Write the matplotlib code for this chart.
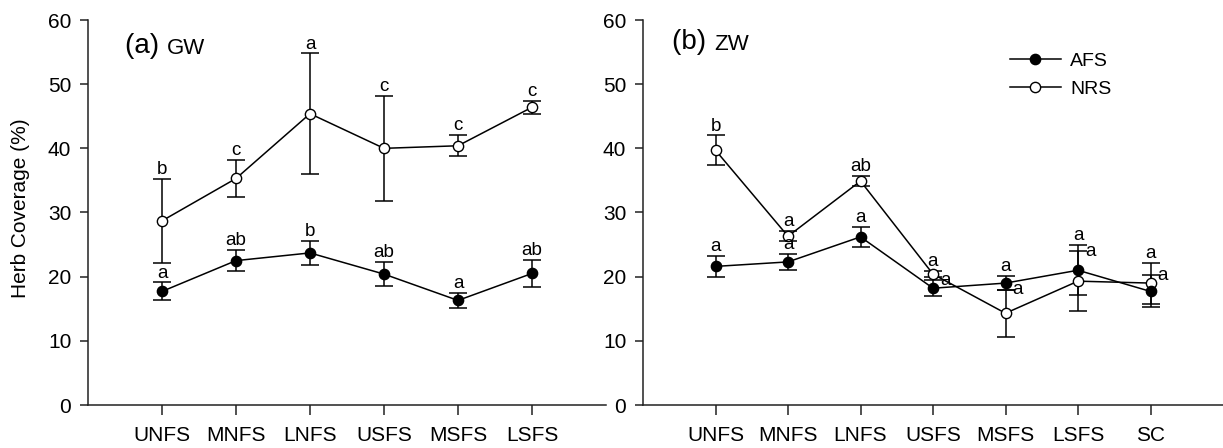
import matplotlib
matplotlib.use("Agg")
import matplotlib.pyplot as plt
from matplotlib.lines import Line2D

plt.rcParams['font.family'] = ['Liberation Sans', 'DejaVu Sans']

# ---------------- data ----------------
cats_gw = ['UNFS', 'MNFS', 'LNFS', 'USFS', 'MSFS', 'LSFS']
gw_afs = [17.7, 22.5, 23.7, 20.4, 16.3, 20.5]
gw_afs_err = [1.4, 1.65, 1.9, 1.9, 1.15, 2.05]
gw_nrs = [28.7, 35.3, 45.4, 40.0, 40.4, 46.4]
gw_nrs_err = [6.55, 2.85, 9.4, 8.15, 1.65, 1.05]
gw_afs_lab = ['a', 'ab', 'b', 'ab', 'a', 'ab']
gw_nrs_lab = ['b', 'c', 'a', 'c', 'c', 'c']
gw_afs_side = ['top'] * 6
gw_nrs_side = ['top'] * 6

cats_zw = ['UNFS', 'MNFS', 'LNFS', 'USFS', 'MSFS', 'LSFS', 'SC']
zw_afs = [21.6, 22.3, 26.2, 18.2, 19.0, 21.0, 17.7]
zw_afs_err = [1.65, 1.3, 1.6, 1.25, 1.1, 3.9, 2.5]
zw_nrs = [39.7, 26.3, 34.9, 20.4, 14.3, 19.3, 19.0]
zw_nrs_err = [2.3, 0.8, 0.75, 0.5, 3.7, 4.7, 3.2]
zw_afs_lab = ['a', 'a', 'a', 'a', 'a', 'a', 'a']
zw_nrs_lab = ['b', 'a', 'ab', 'a', 'a', 'a', 'a']
zw_afs_side = ['top', 'top', 'top', 'right', 'top', 'top', 'right']
zw_nrs_side = ['top', 'top', 'top', 'top', 'right', 'right', 'top']

yticks = [0, 10, 20, 30, 40, 50, 60]
series_names = ['AFS', 'NRS']

# ---------------- figure ----------------
W, H = 1223, 448
fig = plt.figure(figsize=(W / 100, H / 100), dpi=100)

axL = fig.add_axes([88 / W, 43 / H, 518 / W, 385 / H])
axR = fig.add_axes([643 / W, 43 / H, 580 / W, 385 / H])

mk = 7.4
lw = 1.1


def draw(ax, cats, afs, afs_err, nrs, nrs_err, afs_lab, nrs_lab, afs_side, nrs_side, nx):
    x = list(range(1, len(cats) + 1))
    for vals, errs, fc, labs, sides in [(nrs, nrs_err, 'white', nrs_lab, nrs_side),
                                         (afs, afs_err, 'black', afs_lab, afs_side)]:
        ax.errorbar(x, vals, yerr=errs, fmt='none', ecolor='black', elinewidth=lw,
                    capsize=6.5, capthick=lw, zorder=2)
        ax.plot(x, vals, color='black', lw=lw, marker='o', ms=mk, mfc=fc,
                mec='black', mew=1.0, zorder=3)
        for xi, v, e, t, s in zip(x, vals, errs, labs, sides):
            if s == 'top':
                ax.annotate(t, (xi, v + e), xytext=(0, 3.5), textcoords='offset points',
                            ha='center', va='baseline', fontsize=13.5, zorder=4)
            else:
                ax.annotate(t, (xi, v + e), xytext=(5, 0), textcoords='offset points',
                            ha='left', va='center', fontsize=13.5, zorder=4)
    ax.set_xlim(0, nx)
    ax.set_ylim(0, 60)
    ax.set_xticks(x)
    ax.set_xticklabels(cats)
    ax.set_yticks(yticks)
    for sp in ['top', 'right']:
        ax.spines[sp].set_visible(False)
    for sp in ['left', 'bottom']:
        ax.spines[sp].set_linewidth(1.1)
        ax.spines[sp].set_color('#222222')
    ax.tick_params(axis='x', direction='out', length=7, width=1.1, pad=8,
                   labelsize=15, color='#222222')
    ax.tick_params(axis='y', direction='out', length=6, width=1.1, pad=6,
                   labelsize=15, color='#222222')


draw(axL, cats_gw, gw_afs, gw_afs_err, gw_nrs, gw_nrs_err,
     gw_afs_lab, gw_nrs_lab, gw_afs_side, gw_nrs_side, 7)
draw(axR, cats_zw, zw_afs, zw_afs_err, zw_nrs, zw_nrs_err,
     zw_afs_lab, zw_nrs_lab, zw_afs_side, zw_nrs_side, 8)

axL.set_ylabel('Herb Coverage (%)', fontsize=15)
axL.yaxis.set_label_coords(-0.112, 0.51)

# panel titles
tA = axL.text(0.5, 54.8, '(a) ', fontsize=20, ha='left', va='baseline')
axL.annotate('GW', xy=(1, 0), xycoords=tA, ha='left', va='bottom', fontsize=16)
tB = axR.text(0.4, 55.5, '(b) ', fontsize=20, ha='left', va='baseline')
axR.annotate('ZW', xy=(1, 0), xycoords=tB, ha='left', va='bottom', fontsize=16)

# legend
handles = [Line2D([], [], color='black', lw=lw, marker='o', ms=mk, mfc='black', mec='black'),
           Line2D([], [], color='black', lw=lw, marker='o', ms=mk, mfc='white', mec='black')]
fig.legend(handles, series_names, loc='upper left', bbox_to_anchor=(1010 / W, 1 - 52 / H),
           frameon=False, fontsize=14, handlelength=2.6, handletextpad=0.5,
           labelspacing=0.55, borderpad=0, borderaxespad=0)

fig.savefig('out.png', dpi=100)
